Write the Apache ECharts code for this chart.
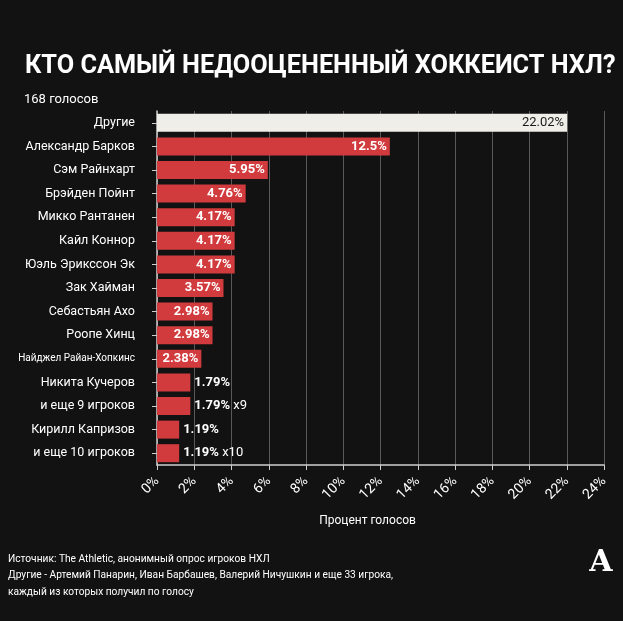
<!DOCTYPE html>
<html><head><meta charset="utf-8">
<script src="https://cdn.jsdelivr.net/npm/echarts@6/dist/echarts.min.js"></script>
<style>html,body{margin:0;padding:0;background:#121212;}#c{width:623px;height:621px;}</style>
</head><body><div id="c"></div>
<script>
const categories = ['Другие','Александр Барков','Сэм Райнхарт','Брэйден Пойнт','Микко Рантанен','Кайл Коннор','Юэль Эрикссон Эк','Зак Хайман','Себастьян Ахо','Роопе Хинц','Найджел Райан-Хопкинс','Никита Кучеров','и еще 9 игроков','Кирилл Капризов','и еще 10 игроков'];
const values = [22.02,12.5,5.95,4.76,4.17,4.17,4.17,3.57,2.98,2.98,2.38,1.79,1.79,1.19,1.19];
const multipliers = ['','','','','','','','','','','','','x9','','x10'];
const xTicks = [0,2,4,6,8,10,12,14,16,18,20,22,24];

const FONT = 'Roboto, "Noto Sans", sans-serif';
const data = values.map((v,i)=>{
  const item = {value:v};
  if (i===0) {
    item.itemStyle = {color:'#efeee8'};
    item.label = {position:'insideRight', formatter: ()=>'{d|'+v+'%}'};
  } else if (v < 2) {
    item.label = {position:'right', distance:4, formatter: ()=>'{b|'+v+'%}' + (multipliers[i] ? '{m| '+multipliers[i]+'}' : '')};
  }
  return item;
});

const chart = echarts.init(document.getElementById('c'));
chart.setOption({
  backgroundColor:'#121212',
  animation:false,
  title:[
    {text:'КТО САМЫЙ НЕДООЦЕНЕННЫЙ ХОККЕИСТ НХЛ?', left:20, top:49,
     textStyle:{color:'#ffffff', fontSize:25.3, fontWeight:'bold', fontFamily:FONT}},
    {text:'168 голосов', left:19, top:88,
     textStyle:{color:'#ffffff', fontSize:13, fontWeight:'normal', fontFamily:FONT}}
  ],
  grid:{left:157, right:19, top:111, bottom:156, containLabel:false},
  xAxis:{type:'value', min:xTicks[0], max:xTicks[xTicks.length-1], interval:2,
    name:'Процент голосов', nameLocation:'middle', nameGap:50,
    nameTextStyle:{color:'#ffffff', fontSize:12, fontFamily:FONT, padding:[0,26,0,0]},
    axisLine:{show:true, lineStyle:{color:'#cfcfcf', width:1.5}},
    axisTick:{show:true, length:5, lineStyle:{color:'#cfcfcf'}},
    splitLine:{show:true, lineStyle:{color:'#5a5a5a', width:1}},
    axisLabel:{color:'#ffffff', fontSize:14, rotate:45, margin:14, fontFamily:FONT,
      formatter:(v)=>v+'%'}
  },
  yAxis:{type:'category', data:categories, inverse:true,
    axisLine:{show:true, lineStyle:{color:'#cfcfcf', width:1.5}},
    axisTick:{show:true, length:5, alignWithLabel:true, lineStyle:{color:'#cfcfcf'}},
    axisLabel:{color:'#ffffff', fontSize:12.5, margin:22, fontFamily:FONT,
      formatter:(v)=> v==='Найджел Райан-Хопкинс' ? '{s|'+v+'}' : v,
      rich:{s:{fontSize:10, color:'#ffffff', fontFamily:FONT}}}
  },
  series:[{type:'bar', data:data, barWidth:18,
    itemStyle:{color:'#d23b3d'},
    label:{show:true, position:'insideRight', distance:3, color:'#ffffff', fontWeight:'bold',
      fontSize:13, fontFamily:FONT, formatter:(p)=>p.value+'%',
      rich:{
        d:{color:'#1a1a1a', fontWeight:'normal', fontSize:13, fontFamily:FONT},
        b:{color:'#ffffff', fontWeight:'bold', fontSize:13, fontFamily:FONT},
        m:{color:'#ffffff', fontWeight:'normal', fontSize:13, fontFamily:FONT}
      }}
  }],
  graphic:[
    {type:'text', left:8, top:551, style:{text:'Источник: The Athletic, анонимный опрос игроков НХЛ\nДругие - Артемий Панарин, Иван Барбашев, Валерий Ничушкин и еще 33 игрока,\nкаждый из которых получил по голосу',
      fill:'#ffffff', font:'10.2px '+FONT, lineHeight:16.5}},
    {type:'text', left:589, top:548, style:{text:'A', fill:'#ffffff', stroke:'#121212', lineWidth:0.5,
      font:'bold 30px "DejaVu Serif", serif'}}
  ]
});
</script></body></html>
